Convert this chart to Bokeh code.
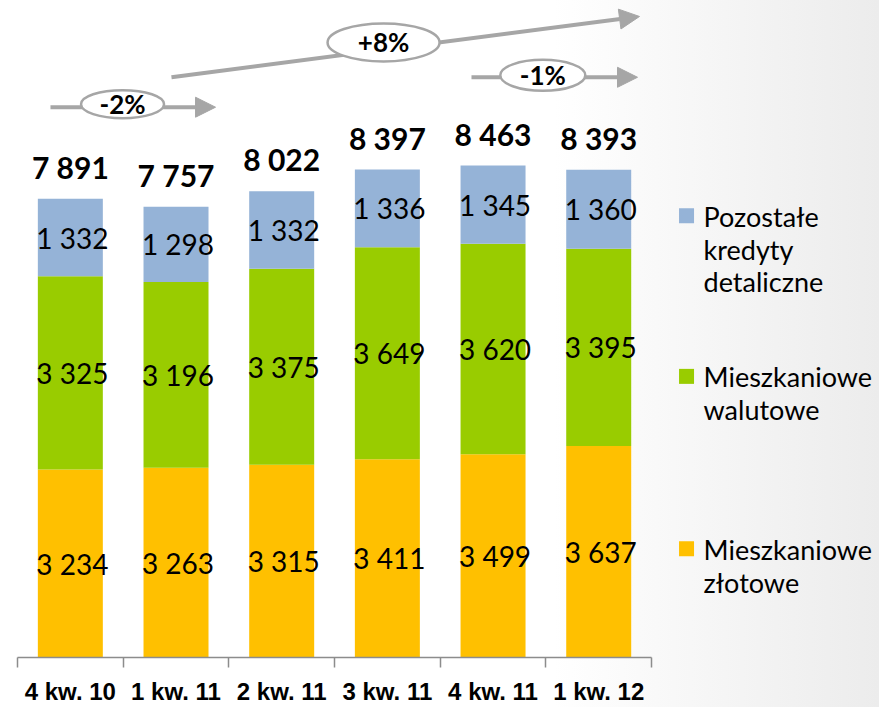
from bokeh.plotting import figure
from bokeh.models import Range1d, LinearAxis, FixedTicker, ColumnDataSource, Arrow, NormalHead
from bokeh.core.properties import value
from bokeh.embed import file_html
from bokeh.resources import INLINE

categories = ["4 kw. 10", "1 kw. 11", "2 kw. 11", "3 kw. 11", "4 kw. 11", "1 kw. 12"]
zlotowe = [3234, 3263, 3315, 3411, 3499, 3637]
walutowe = [3325, 3196, 3375, 3649, 3620, 3395]
pozostale = [1332, 1298, 1332, 1336, 1345, 1360]
totals = [7891, 7757, 8022, 8397, 8463, 8393]
series_names = ["Mieszkaniowe\nzłotowe", "Mieszkaniowe\nwalutowe", "Pozostałe\nkredyty\ndetaliczne"]
colors = ["#FFC000", "#99CC00", "#95B3D7"]
changes = ["-2%", "+8%", "-1%"]

def fmt(v):
    return f"{v:,}".replace(",", " ")

xs = [i + 0.5 for i in range(len(categories))]
src = ColumnDataSource(dict(x=xs, zl=zlotowe, wa=walutowe, po=pozostale))

p = figure(width=879, height=707, x_range=Range1d(0, 8.157), y_range=Range1d(0, 11304),
           output_backend="svg", toolbar_location=None, x_axis_type=None, y_axis_type=None,
           min_border_left=17, min_border_right=0, min_border_top=0, min_border_bottom=48)
p.outline_line_color = None
p.xgrid.visible = False
p.ygrid.visible = False
p.background_fill_alpha = 0
p.border_fill_alpha = 0
p.styles = {"background-image": "linear-gradient(to right, #ffffff 0%, #ffffff 63%, #ececec 100%)"}

rs = p.vbar_stack(["zl", "wa", "po"], x="x", width=0.615, color=colors, source=src, line_color=None)

# segment labels
stack = [zlotowe, walutowe, pozostale]
bottoms = [0] * len(categories)
for vals in stack:
    mids = [b + v / 2 for b, v in zip(bottoms, vals)]
    p.text(x=xs, y=mids, text=[fmt(v) for v in vals], text_align="center", text_baseline="middle",
           x_offset=2, text_font=value("Lato"), text_font_size="28px", text_color="black")
    bottoms = [b + v for b, v in zip(bottoms, vals)]

p.text(x=xs, y=bottoms, text=[fmt(t) for t in totals], text_align="center", text_baseline="alphabetic",
       y_offset=-32, text_font=value("Lato"), text_font_style="bold", text_font_size="30px",
       text_color="black")

# axis
ax = LinearAxis(bounds=(0, len(categories)))
ax.ticker = FixedTicker(ticks=xs, minor_ticks=list(range(len(categories) + 1)))
ax.major_label_overrides = {x: c for x, c in zip(xs, categories)}
ax.major_tick_line_color = None
ax.minor_tick_line_color = "#8C8C8C"
ax.minor_tick_out = 10
ax.minor_tick_in = 0
ax.axis_line_color = "#8C8C8C"
ax.axis_line_width = 1.5
ax.minor_tick_line_width = 1.5
ax.major_label_standoff = 10
ax.major_label_text_font = "Liberation Sans"
ax.major_label_text_font_style = "bold"
ax.major_label_text_font_size = "24px"
ax.major_label_text_color = "black"
p.add_layout(ax, "below")

# change arrows
gray = "#A6A6A6"
arrows = [
    (0.312, 9468, 1.874, 9468),
    (1.457, 9983, 5.886, 11029),
    (4.296, 9983, 5.867, 9983),
]
for (x0, y0, x1, y1) in arrows:
    p.add_layout(Arrow(x_start=x0, y_start=y0, x_end=x1, y_end=y1, line_color=gray, line_width=4,
                       level="underlay",
                       end=NormalHead(size=20, fill_color=gray, line_color=gray)))
ell_x = [0.994, 3.464, 4.971]
ell_y = [9520, 10583, 10017]
ell_w = [83, 112, 85]
ell_h = [28, 38, 31]
p.ellipse(x=ell_x, y=ell_y, width=ell_w, height=ell_h, width_units="screen", height_units="screen",
          fill_color="white", line_color=gray, line_width=2.5)
p.text(x=ell_x, y=ell_y, text=changes, text_align="center", text_baseline="middle",
       text_font=value("Lato"), text_font_style="bold", text_font_size="26px", text_color="black")

# legend (drawn to match the original's top-aligned markers)
leg_marker_x = 6.331
leg_text_x = 6.492
leg_marker_y = [7599, 4837, 1870]
leg_text_y = [7873, 5111, 2144]
leg_order = [2, 1, 0]
p.scatter(x=[leg_marker_x] * 3, y=leg_marker_y, marker="square", size=15,
          color=[colors[k] for k in leg_order], line_color=None)
p.text(x=[leg_text_x] * 3, y=leg_text_y, text=[series_names[k] for k in leg_order],
       text_align="left", text_baseline="top", text_line_height=0.99,
       text_font=value("Lato"), text_font_size="27px", text_color="black")

open("out.html", "w").write(file_html(p, INLINE))
